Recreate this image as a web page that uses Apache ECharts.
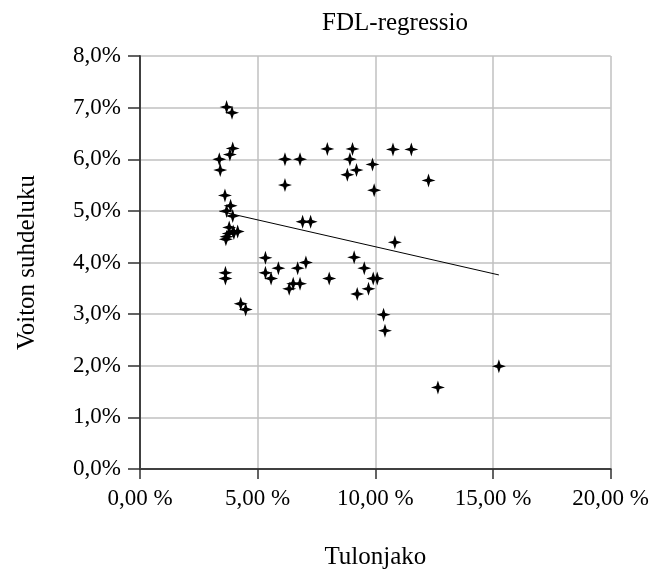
<!DOCTYPE html>
<html><head><meta charset="utf-8">
<script src="https://cdn.jsdelivr.net/npm/echarts@6/dist/echarts.min.js"></script>
<style>html,body{margin:0;padding:0;background:#fff}#c{width:652px;height:575px}</style>
</head><body><div id="c"></div>
<script>
const title = 'FDL-regressio';
const xName = 'Tulonjako';
const yName = 'Voiton suhdeluku';
const xVals = [3.68,3.91,3.94,3.82,3.37,3.41,3.61,3.85,3.68,3.94,6.16,6.16,6.80,7.96,8.81,8.92,9.03,9.20,9.88,9.95,6.91,7.25,3.79,3.96,3.68,3.65,3.77,3.99,4.15,3.63,3.63,4.28,4.49,5.33,5.33,5.57,5.88,6.34,6.51,6.70,6.80,7.05,8.04,9.10,9.23,9.53,9.71,9.91,10.08,10.75,11.53,12.26,10.83,10.35,10.41,15.25,12.66];
const yVals = [7.01,6.90,6.21,6.09,6.00,5.79,5.30,5.10,5.00,4.90,6.00,5.50,6.00,6.20,5.70,6.00,6.20,5.79,5.90,5.40,4.79,4.79,4.68,4.60,4.50,4.45,4.56,4.57,4.60,3.80,3.69,3.20,3.09,4.09,3.80,3.69,3.89,3.49,3.59,3.89,3.59,4.00,3.69,4.10,3.39,3.89,3.49,3.69,3.69,6.19,6.19,5.59,4.39,2.99,2.68,1.99,1.58];
const xTicks = [0,5,10,15,20];
const yTicks = [0,1,2,3,4,5,6,7,8];

const pts = xVals.map((x,i)=>[x,yVals[i]]);
// least-squares trend
const n = xVals.length;
const mx = xVals.reduce((a,b)=>a+b,0)/n, my = yVals.reduce((a,b)=>a+b,0)/n;
let sxy=0,sxx=0;
for(let i=0;i<n;i++){sxy+=(xVals[i]-mx)*(yVals[i]-my);sxx+=(xVals[i]-mx)**2;}
const b = sxy/sxx, a = my-b*mx;
const xmin = Math.min(...xVals), xmax = Math.max(...xVals);
const trend = [[xmin,a+b*xmin],[xmax,a+b*xmax]];

const star = 'path://M0,-10 L2.4,-2.4 L10,0 L2.4,2.4 L0,10 L-2.4,2.4 L-10,0 L-2.4,-2.4 Z';
const font = 'Liberation Serif';
const chart = echarts.init(document.getElementById('c'));
chart.setOption({
  animation:false,
  textStyle:{fontFamily:font},
  title:{text:title,left:390,textAlign:'center',top:6,textStyle:{fontFamily:font,fontWeight:'normal',fontSize:25,color:'#000'}},
  grid:{left:140,right:41,top:56,bottom:105},
  xAxis:{type:'value',min:0,max:20,interval:5,
    name:xName,nameLocation:'middle',nameGap:76,nameTextStyle:{fontFamily:font,fontSize:25,color:'#000'},
    axisLine:{lineStyle:{color:'#404040',width:2}},
    axisTick:{show:true,length:10,lineStyle:{color:'#303030',width:1.5}},
    axisLabel:{fontFamily:font,fontSize:23,color:'#000',margin:18,formatter:v=>v.toFixed(2).replace('.',',')+' %'},
    splitLine:{show:true,lineStyle:{color:'#c0c0c0',width:1.5}}},
  yAxis:{type:'value',min:0,max:8,interval:1,
    name:yName,nameLocation:'middle',nameGap:100,nameRotate:90,nameTextStyle:{fontFamily:font,fontSize:25,color:'#000'},
    axisLine:{show:true,lineStyle:{color:'#404040',width:2}},
    axisTick:{show:true,length:12,lineStyle:{color:'#303030',width:1.5}},
    axisLabel:{fontFamily:font,fontSize:23,color:'#000',margin:19,formatter:v=>v.toFixed(1).replace('.',',')+'%'},
    splitLine:{show:true,lineStyle:{color:'#c0c0c0',width:1.5}}},
  series:[
    {type:'line',data:trend,symbol:'none',lineStyle:{color:'#000',width:1},z:1},
    {type:'scatter',data:pts,symbol:star,symbolSize:14,itemStyle:{color:'#000',opacity:1},z:2}
  ]
});
</script></body></html>
